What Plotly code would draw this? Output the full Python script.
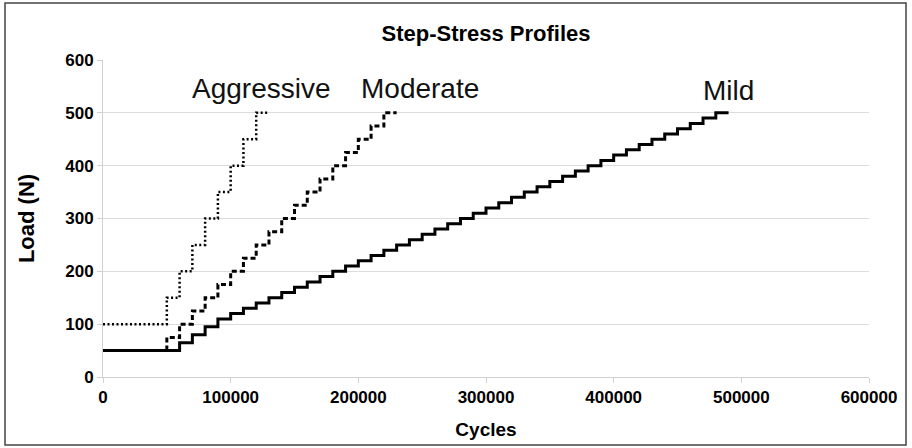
import plotly.graph_objects as go

# ---- data ----
aggr_cycles = [0, 50000, 60000, 70000, 80000, 90000, 100000, 110000, 120000, 130000]
aggr_load = [100, 150, 200, 250, 300, 350, 400, 450, 500, 500]

mod_cycles = [0, 50000, 60000, 70000, 80000, 90000, 100000, 110000, 120000, 130000,
              140000, 150000, 160000, 170000, 180000, 190000, 200000, 210000, 220000, 230000]
mod_load = [50, 75, 100, 125, 150, 175, 200, 225, 250, 275,
            300, 325, 350, 375, 400, 425, 450, 475, 500, 500]

mild_cycles = [0, 60000, 70000, 80000, 90000, 100000, 110000, 120000, 130000, 140000,
               150000, 160000, 170000, 180000, 190000, 200000, 210000, 220000, 230000, 240000,
               250000, 260000, 270000, 280000, 290000, 300000, 310000, 320000, 330000, 340000,
               350000, 360000, 370000, 380000, 390000, 400000, 410000, 420000, 430000, 440000,
               450000, 460000, 470000, 480000, 490000]
mild_load = [50, 65, 80, 95, 110, 120, 130, 140, 150, 160,
             170, 180, 190, 200, 210, 220, 230, 240, 250, 260,
             270, 280, 290, 300, 310, 320, 330, 340, 350, 360,
             370, 380, 390, 400, 410, 420, 430, 440, 450, 460,
             470, 480, 490, 500, 500]

x_ticks = [0, 100000, 200000, 300000, 400000, 500000, 600000]
y_ticks = [0, 100, 200, 300, 400, 500, 600]

labels = [("Aggressive", 124500, 547), ("Moderate", 248000, 547), ("Mild", 490000, 543)]

FONT = "Liberation Sans, Arial, sans-serif"

fig = go.Figure()
fig.add_trace(go.Scatter(x=mild_cycles, y=mild_load, mode="lines", line_shape="hv",
                         line=dict(color="black", width=3), name="Mild"))
fig.add_trace(go.Scatter(x=mod_cycles, y=mod_load, mode="lines", line_shape="hv",
                         line=dict(color="black", width=3, dash="5px,3px"), name="Moderate"))
fig.add_trace(go.Scatter(x=aggr_cycles, y=aggr_load, mode="lines", line_shape="hv",
                         line=dict(color="black", width=2.5, dash="2px,2.5px"), name="Aggressive"))

for text, xv, yv in labels:
    fig.add_annotation(x=xv, y=yv, xref="x", yref="y", text=text, showarrow=False,
                       font=dict(family=FONT, size=28, color="#111111"))

fig.add_shape(type="rect", xref="paper", yref="paper",
              x0=(5 - 103) / 766, x1=(906 - 103) / 766,
              y0=(377 - 445) / 317, y1=(377 - 3) / 317,
              line=dict(color="#444444", width=1.5), fillcolor="rgba(0,0,0,0)", layer="below")

fig.update_layout(
    width=912, height=448,
    margin=dict(l=103, r=43, t=60, b=71),
    paper_bgcolor="white", plot_bgcolor="white",
    showlegend=False,
    title=dict(text="<b>Step-Stress Profiles</b>", x=(486 / 912), xanchor="center",
               y=1 - 33 / 448, yanchor="middle",
               font=dict(family=FONT, size=22, color="black")),
    font=dict(family=FONT, color="black"),
)

fig.update_xaxes(range=[0, 600000], tickvals=x_ticks,
                 ticktext=[f"<b>{v}</b>" for v in x_ticks],
                 tickfont=dict(family=FONT, size=17, color="black"),
                 showgrid=False, zeroline=False,
                 showline=True, linecolor="#d0d0d0", linewidth=1,
                 ticks="outside", ticklen=5, tickcolor="#d0d0d0",
                 title=dict(text="<b>Cycles</b>", font=dict(family=FONT, size=19, color="black"),
                            standoff=16))
fig.update_yaxes(range=[0, 600], tickvals=y_ticks,
                 ticktext=[f"<b>{v}</b>" for v in y_ticks],
                 tickfont=dict(family=FONT, size=17, color="black"),
                 showgrid=True, gridcolor="#dcdcdc", gridwidth=1, zeroline=False,
                 showline=True, linecolor="#d0d0d0", linewidth=1,
                 ticks="outside", ticklen=5, tickcolor="#d0d0d0",
                 title=dict(text="<b>Load (N)</b>", font=dict(family=FONT, size=22, color="black"),
                            standoff=24))

fig.write_html("out.html", config={"displayModeBar": False},
               post_script="document.body.style.margin='0px';")
